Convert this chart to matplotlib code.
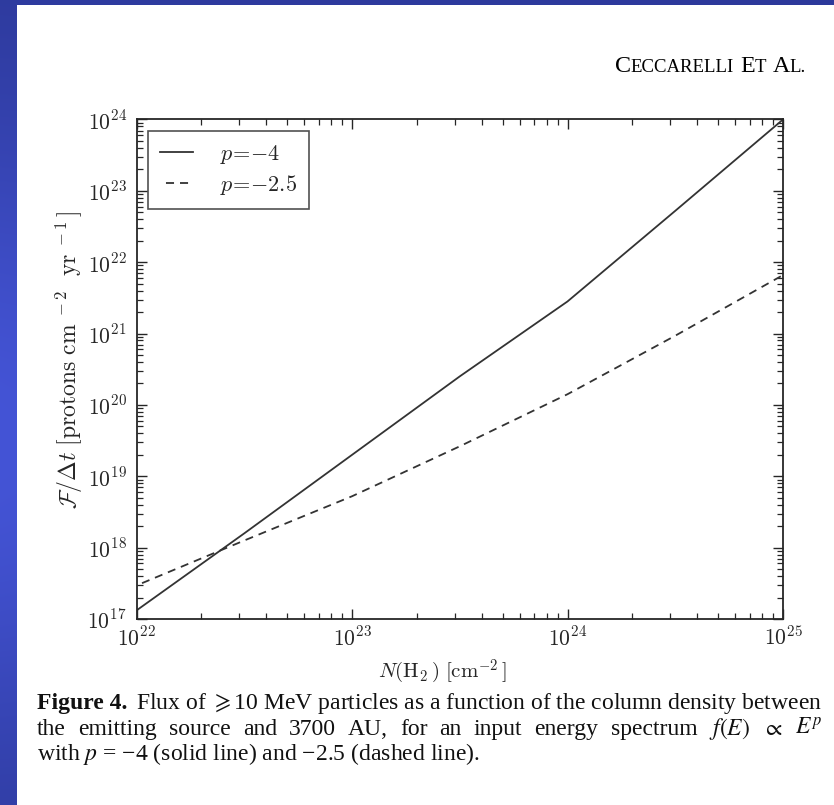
import numpy as np
import matplotlib
matplotlib.use("Agg")
import matplotlib.pyplot as plt
from matplotlib.ticker import (LogLocator, FixedLocator, FuncFormatter, NullFormatter)
from matplotlib.patches import Rectangle

# ---------------- data ----------------
log_column_density = [22.0, 22.5, 23.0, 23.5, 24.0, 24.5, 25.0]
log_flux_p_m4 = [17.12, 18.20, 19.30, 20.40, 21.45, 22.72, 24.00]
log_flux_p_m25 = [17.47, 18.10, 18.72, 19.42, 20.15, 20.97, 21.82]
series_labels = [r"$p\!=\!{-}4$", r"$p\!=\!{-}2.5$"]
x_decades = [22, 23, 24, 25]
y_decades = [17, 18, 19, 20, 21, 22, 23, 24]

x_label = r"$N(\mathrm{H}_2\,)\ [\mathrm{cm}^{-2}\,]$"
y_label = r"$\mathcal{F}/\Delta t\ [\mathrm{protons\ cm}^{\ -2}\ \ \mathrm{yr}^{\ -1}\,]$"

caption_head = "Figure 4."
caption_line1 = (r"Flux of $\geqslant$10 MeV particles as a function "
                 r"of the column density between")
caption_line2 = ["the", "emitting", "source", "and", "3700", "AU,", "for", "an", "input",
                 "energy", "spectrum", r"$f(E)$", r"$\propto$", r"$E^p$"]
caption_line3 = "with $p$ = \u22124 (solid line) and \u22122.5 (dashed line)."
header_pieces = [("C", "big"), ("ECCARELLI", "small"), (" ", "gap"), ("E", "big"),
                 ("T", "small"), (" ", "gap"), ("A", "big"), ("L.", "small")]

# ---------------- figure ----------------
W, H = 834, 805
plt.rcParams["mathtext.fontset"] = "cm"
plt.rcParams["lines.scale_dashes"] = False
fig = plt.figure(figsize=(W / 100, H / 100), dpi=100)
renderer = fig.canvas.get_renderer()

# slide background (blue gradient) with white page
bg = fig.add_axes([0, 0, 1, 1], zorder=-5)
yy = np.linspace(0, 1, H)[:, None]
xx = np.linspace(0, 1, W)[None, :]
top = np.array([0x2b, 0x37, 0x96]) / 255
mid = np.array([0x44, 0x54, 0xd6]) / 255
b = np.exp(-((yy - 0.55) / 0.4) ** 2) * (1 - 0.5 * xx)
img = top[None, None, :] + (mid - top)[None, None, :] * b[:, :, None]
bg.imshow(np.clip(img, 0, 1), extent=[0, 1, 0, 1], aspect="auto", origin="upper")
bg.add_patch(Rectangle((17 / W, 0), 1 - 17 / W, 1 - 5 / H, facecolor="white",
                       edgecolor="none"))
bg.set_xlim(0, 1)
bg.set_ylim(0, 1)
bg.axis("off")

# main axes
L, R, T, B = 136.5, 783, 119.5, 619
ax = fig.add_axes([L / W, 1 - B / H, (R - L) / W, (B - T) / H])
ink = "#262626"
x = [10.0 ** v for v in log_column_density]
ax.plot(x, [10.0 ** v for v in log_flux_p_m4], color="#333333", lw=1.3, ls="-",
        label=series_labels[0])
ax.plot(x, [10.0 ** v for v in log_flux_p_m25], color="#333333", lw=1.3,
        ls=(5.8, (5.8, 4.3)), label=series_labels[1])
ax.set_xscale("log")
ax.set_yscale("log")
ax.set_xlim(10.0 ** x_decades[0], 10.0 ** x_decades[-1])
ax.set_ylim(10.0 ** y_decades[0], 10.0 ** y_decades[-1])

fmt = FuncFormatter(lambda v, pos: r"$10^{%d}$" % int(round(np.log10(v))))
for axis, decs in ((ax.xaxis, x_decades), (ax.yaxis, y_decades)):
    axis.set_major_locator(FixedLocator([10.0 ** d for d in decs]))
    axis.set_minor_locator(LogLocator(base=10, subs=np.arange(2, 10), numticks=200))
    axis.set_major_formatter(fmt)
    axis.set_minor_formatter(NullFormatter())
ax.tick_params(which="both", direction="in", top=True, right=True, color=ink,
               labelcolor=ink, labelsize=15.5)
ax.tick_params(which="major", length=7, width=1.0)
ax.tick_params(which="minor", length=4, width=0.9)
ax.tick_params(axis="x", pad=5)
ax.tick_params(axis="y", pad=7)
for s in ax.spines.values():
    s.set_color(ink)
    s.set_linewidth(1.3)

ax.set_xlabel(x_label, fontsize=15, color=ink)
ax.set_ylabel(y_label, fontsize=17, color=ink)
ax.xaxis.set_label_coords(0.474, -0.078)
ax.yaxis.set_label_coords(-0.080, 0.518)

leg = ax.legend(loc="upper left", fontsize=16, frameon=True, fancybox=False,
                handlelength=1.5, handletextpad=1.2, labelspacing=0.33,
                borderaxespad=0.5, borderpad=0.55)
leg.get_frame().set_edgecolor(ink)
leg.get_frame().set_linewidth(1.2)
for t in leg.get_texts():
    t.set_color(ink)

# ---------------- header (small caps) ----------------
def make_text(s, y_px, **kw):
    return fig.text(0, 1 - y_px / H, s, ha="left", va="baseline", **kw)

def width_of(t):
    return t.get_window_extent(renderer=renderer).width

big, small = 16.0, 12.5
hdr_right, hdr_left = 806, 615
for attempt in range(2):
    texts, widths = [], []
    for s, kind in header_pieces:
        if kind == "gap":
            texts.append(None)
            widths.append(big * 100 / 72 * 0.25)
            continue
        t = make_text(s, 72, fontsize=big if kind == "big" else small,
                      family="Liberation Serif", color="#000000")
        texts.append(t)
        widths.append(width_of(t))
    total = sum(widths)
    if attempt == 0:
        f = (hdr_right - hdr_left) / total
        for t in texts:
            if t is not None:
                t.remove()
        big *= f
        small *= f
xpos = hdr_right - total
for t, w in zip(texts, widths):
    if t is not None:
        t.set_x(xpos / W)
    xpos += w

# ---------------- caption ----------------
cap_kw = dict(family="Liberation Serif", color="#111111", math_fontfamily="stix")
cap_left, cap_right = 37, 822
head_gap = 7
y1, y2, y3 = 709, 735, 760

# line 1: bold lead-in + rest, sized to span the text block
size1 = 17.0
th = make_text(caption_head, y1, fontsize=size1, fontweight="bold", **cap_kw)
t1 = make_text(caption_line1, y1, fontsize=size1, **cap_kw)
size1 *= (cap_right - cap_left - head_gap) / (width_of(th) + width_of(t1))
th.set_fontsize(size1)
t1.set_fontsize(size1)
th.set_x(cap_left / W)
t1.set_x((cap_right - width_of(t1)) / W)

# line 2: justified word by word
ts = [make_text(w, y2, fontsize=size1, **cap_kw) for w in caption_line2]
ws = [width_of(t) for t in ts]
gap = (cap_right - cap_left - sum(ws)) / (len(ts) - 1)
xp = cap_left
for t, w in zip(ts, ws):
    t.set_x(xp / W)
    xp += w + gap

# line 3: ragged
t3 = make_text(caption_line3, y3, fontsize=size1, **cap_kw)
t3.set_x(cap_left / W)

fig.savefig("out.png", dpi=100)
